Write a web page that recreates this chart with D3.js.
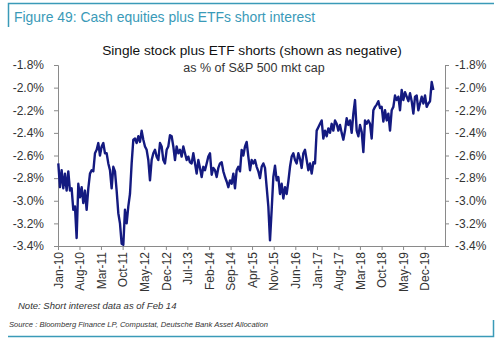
<!DOCTYPE html>
<html>
<head>
<meta charset="utf-8">
<script src="https://cdn.jsdelivr.net/npm/d3@7"></script>
<style>
  body { margin:0; background:#fff; }
  svg { display:block; font-family:"Liberation Sans", Arial, sans-serif; }
</style>
</head>
<body>
<div id="app"></div>
<script>
// data, roughly every 2-3 weeks from Jan 2010
var startDate = new Date(2010,0,4);
var stepHours = 395;
var shorts = [
  -2.67,-2.88,-2.73,-2.89,-2.76,-2.91,-2.74,-2.91,-2.89,-3.08,-3.05,-3.33,-2.85,-2.97,-2.88,-3.02,
  -2.91,-3.08,-2.89,-2.76,-2.73,-2.74,-2.58,-2.55,-2.49,-2.60,-2.52,-2.49,-2.58,-2.58,-2.67,-2.73,
  -2.89,-2.70,-2.74,-2.91,-3.11,-3.20,-3.38,-3.39,-3.08,-3.20,-3.05,-2.94,-2.67,-2.46,-2.45,-2.49,
  -2.43,-2.48,-2.38,-2.46,-2.52,-2.55,-2.64,-2.82,-2.64,-2.58,
  -2.55,-2.61,-2.64,-2.49,-2.52,-2.64,-2.67,-2.55,-2.52,-2.42,-2.43,-2.52,-2.64,-2.52,-2.58,-2.55,
  -2.61,-2.52,-2.58,-2.64,-2.61,-2.66,-2.67,-2.58,-2.67,-2.76,-2.64,-2.71,-2.79,-2.70,-2.73,-2.67,
  -2.61,-2.58,-2.77,-2.71,-2.73,-2.79,-2.71,-2.67,-2.66,-2.74,-2.79,-2.83,-2.88,-2.82,-2.85,-2.76,
  -2.89,-2.73,-2.70,-2.74,-2.55,-2.60,-2.52,-2.48,-2.61,
  -2.73,-2.64,-2.67,-2.64,-2.70,-2.74,-2.80,-2.70,-2.67,-2.71,-2.88,-3.05,-3.35,-3.08,-2.79,-2.69,
  -2.82,-2.79,-2.94,-2.85,-2.98,-2.88,-2.94,-2.83,-2.70,-2.61,-2.58,-2.64,-2.67,-2.58,-2.63,-2.71,
  -2.58,-2.55,-2.64,-2.73,-2.67,-2.76,-2.66,-2.67,-2.38,-2.35,-2.32,-2.29,-2.45,-2.38,-2.43,-2.36,
  -2.40,-2.32,-2.38,-2.29,-2.32,-2.38,-2.33,-2.40,-2.46,
  -2.38,-2.27,-2.33,-2.29,-2.40,-2.23,-2.11,-2.38,-2.43,-2.33,-2.39,-2.57,-2.29,-2.32,-2.29,-2.32,
  -2.45,-2.20,-2.17,-2.15,-2.12,-2.18,-2.17,-2.30,-2.20,-2.29,-2.23,-2.38,-2.20,-2.17,-2.07,-2.11,
  -2.08,-2.20,-2.02,-2.11,-2.04,-2.08,-2.12,-2.05,-2.12,-2.23,-2.08,-2.07,-2.20,-2.14,-2.08,-2.14,
  -2.07,-2.17,-2.14,-2.12,-1.95,-2.02
];
var yTicks = [-1.8,-2.0,-2.2,-2.4,-2.6,-2.8,-3.0,-3.2,-3.4];
var xTickLabels = ['Jan-10','Aug-10','Mar-11','Oct-11','May-12','Dec-12','Jul-13','Feb-14','Sep-14',
  'Apr-15','Nov-15','Jun-16','Jan-17','Aug-17','Mar-18','Oct-18','May-19','Dec-19'];

var teal = '#3a9ab8';
var svg = d3.select('#app')
  .append('svg')
    .attr('width',500)
    .attr('height',346);

// frame pieces of the figure box
svg.append('path')
    .attr('d','M8.5,27V3.5H494')
    .attr('fill','none')
    .attr('stroke',teal)
    .attr('stroke-width',1.5);
svg.append('path')
    .attr('d','M8,336.5H493.5V320')
    .attr('fill','none')
    .attr('stroke',teal)
    .attr('stroke-width',1.5);

svg.append('text')
    .attr('x',14).attr('y',22)
    .attr('fill',teal)
    .style('font-size','13.9px')
    .text('Figure 49: Cash equities plus ETFs short interest');

svg.append('text')
    .attr('x',252).attr('y',55)
    .attr('text-anchor','middle')
    .attr('fill','#111')
    .style('font-size','13.7px')
    .text('Single stock plus ETF shorts (shown as negative)');
svg.append('text')
    .attr('x',254).attr('y',72)
    .attr('text-anchor','middle')
    .attr('fill','#333')
    .style('font-size','12.5px')
    .text('as % of S&P 500 mkt cap');

var parseTick = d3.timeParse('%b-%y');
var dates = shorts.map(function(d,i){ return d3.timeHour.offset(startDate, i*stepHours); });

var x = d3.scaleTime()
    .domain([new Date(2010,0,1), new Date(2020,5,18)])
    .range([58,445]);
var y = d3.scaleLinear()
    .domain([-3.4,-1.8])
    .range([246,65]);

var fmt = function(d){ return d.toFixed(1) + '%'; };

var left = svg.append('g')
    .attr('transform','translate(58,0)')
    .call(d3.axisLeft(y).tickValues(yTicks).tickFormat(fmt).tickSize(4).tickPadding(10));
var right = svg.append('g')
    .attr('transform','translate(445,0)')
    .call(d3.axisRight(y).tickValues(yTicks).tickFormat(fmt).tickSize(4).tickPadding(6));
var bottom = svg.append('g')
    .attr('transform','translate(0,246)')
    .call(d3.axisBottom(x).tickValues(xTickLabels.map(parseTick)).tickFormat(d3.timeFormat('%b-%y')).tickSize(4).tickSizeOuter(0));

[left,right,bottom].forEach(function(g){
  g.select('.domain').attr('stroke','#8a8a8a');
  g.selectAll('.tick line').attr('stroke','#8a8a8a');
  g.selectAll('text').attr('fill','#333').style('font-size','12px')
    .style('font-family','"Liberation Sans", Arial, sans-serif');
});
bottom.selectAll('text')
    .attr('transform','rotate(-90)')
    .attr('text-anchor','end')
    .attr('x',-6)
    .attr('y',0)
    .attr('dy','0.35em');

var line = d3.line()
    .x(function(d,i){ return x(dates[i]); })
    .y(function(d){ return y(d); });

svg.append('path')
    .datum(shorts)
    .attr('d',line)
    .attr('fill','none')
    .attr('stroke','#141a80')
    .attr('stroke-width',2.4)
    .attr('stroke-linejoin','round');

svg.append('text')
    .attr('x',18).attr('y',309)
    .attr('fill','#333')
    .style('font-size','9.5px')
    .style('font-style','italic')
    .text('Note: Short interest data as of Feb 14');
svg.append('text')
    .attr('x',9).attr('y',327)
    .attr('fill','#333')
    .style('font-size','7.6px')
    .style('font-style','italic')
    .text('Source : Bloomberg Finance LP, Compustat, Deutsche Bank Asset Allocation');
</script>
</body>
</html>
